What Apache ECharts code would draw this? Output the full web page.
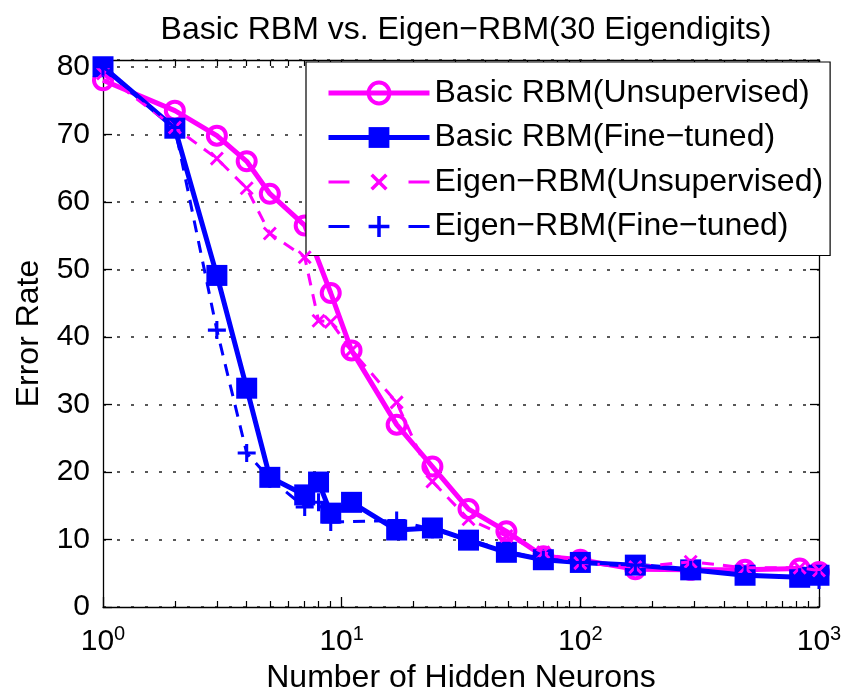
<!DOCTYPE html>
<html>
<head>
<meta charset="utf-8">
<script src="https://cdn.jsdelivr.net/npm/echarts@6/dist/echarts.min.js"></script>
<style>
html,body{margin:0;padding:0;background:#fff;}
#c{width:846px;height:696px;}
</style>
</head>
<body>
<div id="c"></div>
<script>
// ---- data ----
var seriesNames = ['Basic RBM(Unsupervised)', 'Basic RBM(Fine\u2212tuned)', 'Eigen\u2212RBM(Unsupervised)', 'Eigen\u2212RBM(Fine\u2212tuned)'];
var basicUnsupX = [1, 2, 3, 4, 5, 7, 9, 11, 17, 24, 34, 49, 70, 100, 170, 290, 490, 830, 1000];
var basicUnsupY = [78, 73.5, 69.8, 66, 61.2, 56.5, 46.5, 38, 27, 20.8, 14.5, 11.2, 7.5, 7.0, 5.6, 5.5, 5.5, 5.7, 5.2];
var basicFineX = [1, 2, 3, 4, 5, 7, 8, 9, 11, 17, 24, 34, 49, 70, 100, 170, 290, 490, 830, 1000];
var basicFineY = [80, 70.9, 49.1, 32.4, 19.2, 16.6, 18.5, 13.9, 15.5, 11.4, 11.7, 9.9, 8.1, 7.0, 6.6, 6.2, 5.5, 4.7, 4.4, 4.7];
var eigenUnsupX = [1, 2, 3, 4, 5, 7, 8, 9, 11, 17, 24, 34, 49, 70, 100, 170, 290, 490, 830, 1000];
var eigenUnsupY = [79, 71, 66.4, 62, 55.3, 51.8, 42.4, 42.2, 38, 30.3, 18.6, 13, 10.5, 8.1, 6.5, 5.9, 6.7, 5.8, 5.8, 5.4];
var eigenFineX = [1, 2, 3, 4, 5, 7, 8, 9, 17, 24, 34, 49, 70, 100, 170, 290, 490, 830, 1000];
var eigenFineY = [80, 71, 41, 22.8, 19, 14.8, 15.5, 12.6, 12.8, 11.5, 10, 8.3, 7, 6.6, 6.2, 5.5, 4.8, 4.4, 4];
var xMajorTicks = [1, 10, 100, 1000];
var xTickExponents = ['0', '1', '2', '3'];
var xMinorTicks = [2, 3, 4, 5, 6, 7, 8, 9, 20, 30, 40, 50, 60, 70, 80, 90, 200, 300, 400, 500, 600, 700, 800, 900];
var yMin = 0, yMax = 81, yStep = 10;

function pairs(xs, ys) { return xs.map(function (x, i) { return [x, ys[i]]; }); }

var FONT = 'Liberation Sans, Arial, Helvetica, sans-serif';
var MAG = '#ff00ff', BLU = '#0000ff';
var PLUS = 'path://M0,4.15H10V5.85H0Z M4.15,0H5.85V10H4.15Z';

var chart = echarts.init(document.getElementById('c'), null, { renderer: 'canvas' });

function xAxisBase(pos, minor) {
  return {
    type: 'log', logBase: 10, min: 1, max: 1000, position: pos, gridIndex: 0,
    axisLine: { show: !minor, onZero: false, lineStyle: { color: '#000', width: 1.3 } },
    axisTick: minor ?
      { show: true, inside: true, length: 6, customValues: xMinorTicks, lineStyle: { color: '#000', width: 1.2 } } :
      { show: true, inside: true, length: 10, customValues: xMajorTicks, lineStyle: { color: '#000', width: 1.3 } },
    axisLabel: { show: false },
    splitLine: { show: false }
  };
}

var xMain = xAxisBase('bottom', false);
xMain.axisLabel = {
  show: true, margin: 17, customValues: xMajorTicks,
  formatter: function (v) {
    var i = xMajorTicks.indexOf(Math.round(v));
    return '{b|10}{s|' + (i >= 0 ? xTickExponents[i] : '') + '}';
  },
  rich: {
    b: { fontFamily: FONT, fontSize: 30, color: '#000' },
    s: { fontFamily: FONT, fontSize: 20, color: '#000', padding: [0, 0, 16, 0] }
  }
};
xMain.name = 'Number of Hidden Neurons';
xMain.nameLocation = 'middle';
xMain.nameGap = 53;
xMain.nameTextStyle = { fontFamily: FONT, fontSize: 32, color: '#000' };

var option = {
  backgroundColor: '#fff',
  animation: false,
  title: {
    text: 'Basic RBM vs. Eigen\u2212RBM(30 Eigendigits)',
    left: 461, textAlign: 'center', top: 9,
    textStyle: { fontFamily: FONT, fontSize: 32, fontWeight: 'normal', color: '#000' }
  },
  grid: { left: 103, right: 27, top: 60, bottom: 89, containLabel: false, outerBoundsMode: 'none' },
  legend: {
    orient: 'vertical', left: 306, top: 62,
    backgroundColor: '#fff', borderColor: '#000', borderWidth: 1.2,
    padding: [15, 7, 13, 20],
    itemWidth: 101, itemHeight: 26, itemGap: 12.5,
    textStyle: { fontFamily: FONT, fontSize: 32, color: '#000', lineHeight: 32 },
    data: [
      { name: seriesNames[0], lineStyle: { width: 5 }, itemStyle: { borderWidth: 4 } },
      { name: seriesNames[1], lineStyle: { width: 5 } },
      { name: seriesNames[2], lineStyle: { width: 3, type: [21, 59] } },
      { name: seriesNames[3], lineStyle: { width: 3, type: [21, 59] } }
    ]
  },
  xAxis: [xMain, xAxisBase('bottom', true), xAxisBase('top', false), xAxisBase('top', true)],
  yAxis: [
    {
      type: 'value', min: yMin, max: yMax, interval: yStep, position: 'left',
      axisLine: { show: true, lineStyle: { color: '#000', width: 1.3 } },
      axisTick: { show: true, inside: true, length: 9, lineStyle: { color: '#000', width: 1.3 } },
      axisLabel: { show: true, showMaxLabel: false, margin: 13, fontFamily: FONT, fontSize: 30, color: '#000' },
      splitLine: { show: true, lineStyle: { color: '#222', width: 1.5, type: [3, 11] } },
      name: 'Error Rate', nameLocation: 'middle', nameGap: 58,
      nameTextStyle: { fontFamily: FONT, fontSize: 32, color: '#000' }
    },
    {
      type: 'value', min: yMin, max: yMax, interval: yStep, position: 'right',
      axisLine: { show: true, lineStyle: { color: '#000', width: 1.3 } },
      axisTick: { show: true, inside: true, length: 9, lineStyle: { color: '#000', width: 1.3 } },
      axisLabel: { show: false }, splitLine: { show: false }
    }
  ],
  series: [
    {
      name: seriesNames[0], type: 'line', xAxisIndex: 0, yAxisIndex: 0,
      data: pairs(basicUnsupX, basicUnsupY),
      symbol: 'circle', symbolSize: 18,
      lineStyle: { color: MAG, width: 5 },
      itemStyle: { color: 'rgba(255,255,255,0)', borderColor: MAG, borderWidth: 4 },
      z: 2
    },
    {
      name: seriesNames[1], type: 'line', xAxisIndex: 0, yAxisIndex: 0,
      data: pairs(basicFineX, basicFineY),
      symbol: 'rect', symbolSize: 21,
      lineStyle: { color: BLU, width: 5 },
      itemStyle: { color: BLU, borderWidth: 0 },
      z: 3
    },
    {
      name: seriesNames[2], type: 'line', xAxisIndex: 0, yAxisIndex: 0,
      data: pairs(eigenUnsupX, eigenUnsupY),
      symbol: PLUS, symbolSize: 17, symbolRotate: 45,
      lineStyle: { color: MAG, width: 3, type: [12, 9] },
      itemStyle: { color: MAG, borderWidth: 0 },
      z: 4
    },
    {
      name: seriesNames[3], type: 'line', xAxisIndex: 0, yAxisIndex: 0,
      data: pairs(eigenFineX, eigenFineY),
      symbol: PLUS, symbolSize: 18,
      lineStyle: { color: BLU, width: 3, type: [12, 9] },
      itemStyle: { color: BLU, borderWidth: 0 },
      z: 5
    }
  ]
};
chart.setOption(option);
</script>
</body>
</html>
